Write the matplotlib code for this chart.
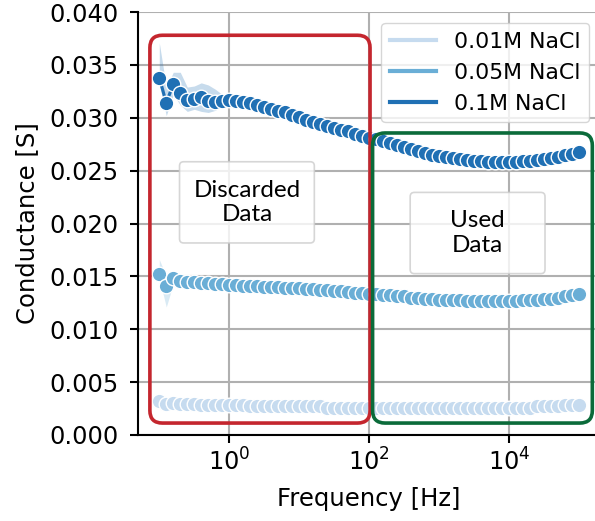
import matplotlib
matplotlib.use("Agg")
import matplotlib.pyplot as plt
from matplotlib.lines import Line2D
from matplotlib.patches import FancyBboxPatch
from matplotlib.ticker import FixedLocator, NullLocator

# frequency sweep [Hz], 10 points per decade
freq = [0.1, 0.1259, 0.1585, 0.1995, 0.2512, 0.3162, 0.3981, 0.5012, 0.631, 0.7943,
        1, 1.259, 1.585, 1.995, 2.512, 3.162, 3.981, 5.012, 6.31, 7.943,
        10, 12.59, 15.85, 19.95, 25.12, 31.62, 39.81, 50.12, 63.1, 79.43,
        100, 125.9, 158.5, 199.5, 251.2, 316.2, 398.1, 501.2, 631, 794.3,
        1000, 1259, 1585, 1995, 2512, 3162, 3981, 5012, 6310, 7943,
        10000, 12590, 15850, 19950, 25120, 31620, 39810, 50120, 63100, 79430,
        100000]

# mean conductance [S] per concentration
g_001 = [0.0032, 0.0029, 0.0030, 0.0029, 0.0029, 0.0029, 0.0028, 0.0028, 0.0028, 0.0028,
         0.0028, 0.0028, 0.0028, 0.0027, 0.0027, 0.0027, 0.0027, 0.0027, 0.0027, 0.0027,
         0.0027, 0.0027, 0.0027, 0.0027, 0.0026, 0.0026, 0.0026, 0.0026, 0.0026, 0.0026,
         0.0026, 0.0026, 0.0026, 0.0026, 0.0026, 0.0026, 0.0026, 0.0026, 0.0026, 0.0026,
         0.0026, 0.0026, 0.0026, 0.0026, 0.0026, 0.0026, 0.0026, 0.0026, 0.0026, 0.0026,
         0.0026, 0.0026, 0.0026, 0.0026, 0.0027, 0.0027, 0.0027, 0.0027, 0.0028, 0.0028,
         0.0028]
g_005 = [0.0152, 0.0141, 0.0148, 0.0146, 0.0145, 0.0145, 0.0144, 0.0144, 0.0143, 0.0143,
         0.0142, 0.0142, 0.0141, 0.0141, 0.0141, 0.0140, 0.0140, 0.0140, 0.0139, 0.0139,
         0.0139, 0.0138, 0.0138, 0.0137, 0.0137, 0.0136, 0.0136, 0.0135, 0.0134, 0.0134,
         0.0133, 0.0133, 0.0132, 0.0132, 0.0131, 0.0131, 0.0130, 0.0130, 0.0129, 0.0129,
         0.0128, 0.0128, 0.0128, 0.0128, 0.0127, 0.0127, 0.0127, 0.0127, 0.0127, 0.0127,
         0.0127, 0.0127, 0.0128, 0.0128, 0.0128, 0.0129, 0.0129, 0.0130, 0.0131, 0.0132,
         0.0133]
g_01 = [0.0338, 0.0314, 0.0332, 0.0323, 0.0317, 0.0318, 0.0320, 0.0316, 0.0315, 0.0316,
        0.0317, 0.0316, 0.0315, 0.0314, 0.0312, 0.0310, 0.0308, 0.0306, 0.0305, 0.0303,
        0.0301, 0.0298, 0.0296, 0.0294, 0.0292, 0.0290, 0.0288, 0.0287, 0.0285, 0.0283,
        0.0281, 0.0280, 0.0278, 0.0276, 0.0274, 0.0272, 0.0270, 0.0269, 0.0267, 0.0265,
        0.0264, 0.0263, 0.0262, 0.0261, 0.0260, 0.0259, 0.0259, 0.0258, 0.0258, 0.0258,
        0.0258, 0.0258, 0.0259, 0.0259, 0.0260, 0.0261, 0.0262, 0.0263, 0.0265, 0.0266,
        0.0268]

# spread between repeats at the lowest frequencies
lo_005 = [0.0148, 0.0121, 0.0143, 0.0144, 0.0144]
hi_005 = [0.0166, 0.0150, 0.0152, 0.0148, 0.0146]
lo_01 = [0.0332, 0.0302, 0.0322, 0.0312, 0.0306, 0.0308, 0.0306, 0.0305, 0.0307, 0.0311, 0.0315]
hi_01 = [0.0371, 0.0329, 0.0343, 0.0343, 0.0329, 0.0330, 0.0333, 0.0331, 0.0327, 0.0322, 0.0319]

labels = ["0.01M NaCl", "0.05M NaCl", "0.1M NaCl"]
colors = ["#c6dbef", "#6aaed6", "#2070b4"]

fig = plt.figure(figsize=(5.95, 5.21), dpi=100)
ax = fig.add_axes([138.3 / 595, 86 / 521, 461.7 / 595, 423 / 521])

series = [g_001, g_005, g_01]
for g, c in zip(series, colors):
    ax.plot(freq, g, color=c, lw=2.25, marker="o", ms=10.5,
            mec="white", mew=1.0, zorder=3)
ax.fill_between(freq[:len(lo_005)], lo_005, hi_005, color=colors[1], alpha=0.25, lw=0, zorder=2)
ax.fill_between(freq[:len(lo_01)], lo_01, hi_01, color=colors[2], alpha=0.25, lw=0, zorder=2)

ax.set_xscale("log")
ax.set_xlim(10 ** -1.3, 10 ** 5.3)
ax.set_ylim(0, 0.04)
ax.xaxis.set_major_locator(FixedLocator([1, 100, 10000]))
ax.xaxis.set_minor_locator(NullLocator())
ax.set_yticks([0, 0.005, 0.01, 0.015, 0.02, 0.025, 0.03, 0.035, 0.04])

ax.grid(True, color="#b0b0b0", lw=1.5)
ax.set_axisbelow(True)
ax.spines["top"].set_visible(False)
ax.spines["right"].set_visible(False)
ax.spines["left"].set_linewidth(1.5)
ax.spines["bottom"].set_linewidth(1.5)
ax.tick_params(labelsize=17.4, length=6, width=1.5)
ax.tick_params(axis="y", pad=8.5)
ax.set_xlabel("Frequency [Hz]", fontsize=17.5, labelpad=8)
ax.set_ylabel("Conductance [S]", fontsize=17.5, labelpad=7)

handles = [Line2D([], [], color=c, lw=3) for c in colors]
ax.legend(handles, labels, loc="upper right", fontsize=15.8, handlelength=2.1)

# rounded frames around the discarded / used frequency ranges
aspect = (461.7 / 595 * 5.95) / (423 / 521 * 5.21)
to_axes = ax.transData + ax.transAxes.inverted()


def frame(x0, x1, y0, y1, color):
    (ax0, ay0), (ax1, ay1) = to_axes.transform([(x0, y0), (x1, y1)])
    box = FancyBboxPatch((ax0, ay0), ax1 - ax0, ay1 - ay0,
                         boxstyle="round,pad=0,rounding_size=0.027",
                         mutation_aspect=aspect, transform=ax.transAxes,
                         fill=False, ec=color, lw=2.6, zorder=5, clip_on=False)
    ax.add_patch(box)


frame(0.0734, 103, 0.00113, 0.0378, "#c4262e")
frame(112, 1.55e5, 0.00113, 0.02856, "#0b6b3a")


# labelled note with a fixed-size translucent box behind it
def note(x, y, txt):
    cx, cy = to_axes.transform((x, y))
    hw, hh = 0.146, 0.096
    box = FancyBboxPatch((cx - hw, cy - hh), 2 * hw, 2 * hh,
                         boxstyle="round,pad=0,rounding_size=0.009",
                         mutation_aspect=aspect, transform=ax.transAxes,
                         fc="white", ec="0.8", alpha=0.8, lw=1.2, zorder=6)
    ax.add_patch(box)
    ax.text(cx, cy, txt, ha="center", va="center", fontsize=17.5,
            family="Lato", transform=ax.transAxes, zorder=7)


note(1.79, 0.0220, "Discarded\nData")
note(3550, 0.0191, "Used\nData")

fig.savefig("out.png", dpi=100)
